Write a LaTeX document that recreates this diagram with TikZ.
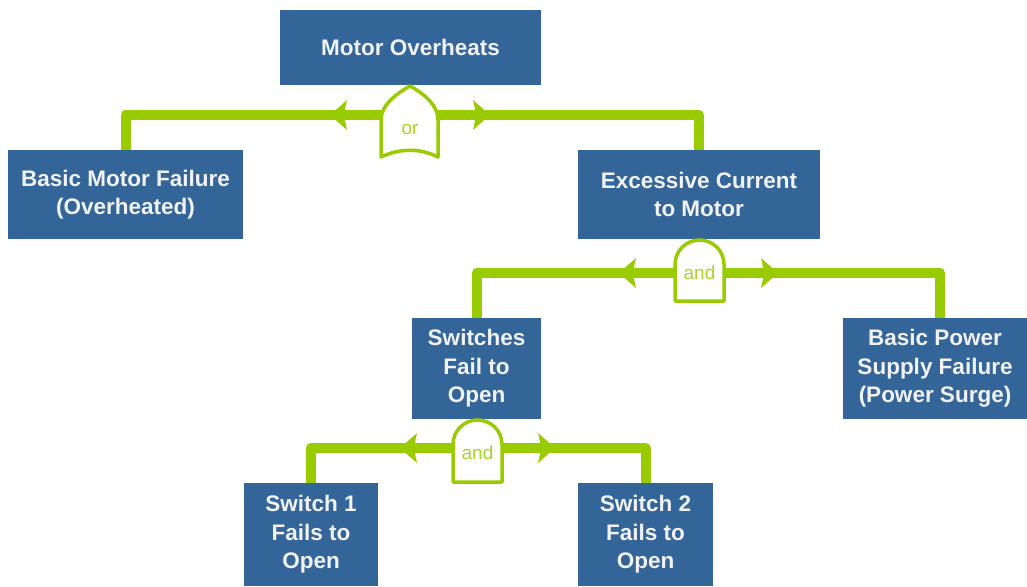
\documentclass[tikz,border=0pt]{standalone}
\usepackage{fontspec}
\setmainfont{Liberation Sans}
\definecolor{boxblue}{RGB}{52,101,153}
\definecolor{lgreen}{RGB}{153,204,0}
\definecolor{boxtext}{RGB}{240,242,245}
\begin{document}
\begin{tikzpicture}[x=1pt,y=-1pt,
  box/.style={fill=boxblue,text=boxtext,font=\fontsize{22.5}{28.5}\selectfont\bfseries,align=center,inner sep=0pt},
  conn/.style={draw=lgreen,line width=10pt,line join=round},
  gate/.style={draw=lgreen,line width=3.5pt,fill=white,line join=round},
  gatetext/.style={text=lgreen!85!white,font=\fontsize{19}{19}\selectfont,inner sep=0pt},
  arrL/.pic={\fill[lgreen] (0,0) -- (17,-15) .. controls (15,-6) .. (14,0) .. controls (15,6) .. (17,15) -- cycle;},
  arrR/.pic={\fill[lgreen] (0,0) -- (-17,-15) .. controls (-15,-6) .. (-14,0) .. controls (-15,6) .. (-17,15) -- cycle;}
]
\useasboundingbox (0,0) rectangle (1027,586);
\fill[white] (0,0) rectangle (1027,586);

% boxes
\node[box,minimum width=261pt,minimum height=75pt] (mo) at (410.5,47.5) {Motor Overheats};
\node[box,minimum width=235pt,minimum height=89pt] (bmf) at (125.5,194.5) {Basic Motor Failure\\(Overheated)};
\node[box,minimum width=242pt,minimum height=89pt] (ec) at (699,194.5) {Excessive Current\\to Motor};
\node[box,minimum width=129pt,minimum height=101pt] (sf) at (476.5,368.5) {Switches\\Fail to\\Open};
\node[box,minimum width=184pt,minimum height=101pt] (bps) at (935,368.5) {Basic Power\\Supply Failure\\(Power Surge)};
\node[box,minimum width=134pt,minimum height=103pt] (s1) at (311,534.5) {Switch 1\\Fails to\\Open};
\node[box,minimum width=135pt,minimum height=103pt] (s2) at (645.5,534.5) {Switch 2\\Fails to\\Open};

% gate junction points
\coordinate (g1) at (410,115);
\coordinate (g2) at (699.5,273);
\coordinate (g3) at (477.5,448);

% connectors
\draw[conn] (g1) -| (bmf.north);
\draw[conn] (g1) -| (ec.north);
\draw[conn] (g2) -| (sf.north);
\draw[conn] (g2) -| ([xshift=5pt]bps.north);
\draw[conn] (g3) -| (s1.north);
\draw[conn] (g3) -| (s2.north);

% arrowheads
\pic at (330,115) {arrL};
\pic at (490,115) {arrR};
\pic at (619,273) {arrL};
\pic at (778,273) {arrR};
\pic at (400,448) {arrL};
\pic at (555,448) {arrR};

% gates
\draw[gate] (410,86) .. controls (426,95) and (438,106) .. (438,120) -- (438,157)
  .. controls (420,148) and (400,148) .. (381,157) -- (381,120)
  .. controls (381,106) and (394,95) .. (410,86) -- cycle;
\node[gatetext] (orl) at (410,129) {or};

\draw[gate] (675,301) -- (675,264.5) arc[start angle=180,end angle=0,radius=24.5pt] -- (724,301) -- cycle;
\node[gatetext] (and1) at (699.5,273) {and};

\draw[gate] (453,482) -- (453,444.5) arc[start angle=180,end angle=0,radius=24.5pt] -- (502,482) -- cycle;
\node[gatetext] (and2) at (477.5,453) {and};
\end{tikzpicture}
\end{document}
